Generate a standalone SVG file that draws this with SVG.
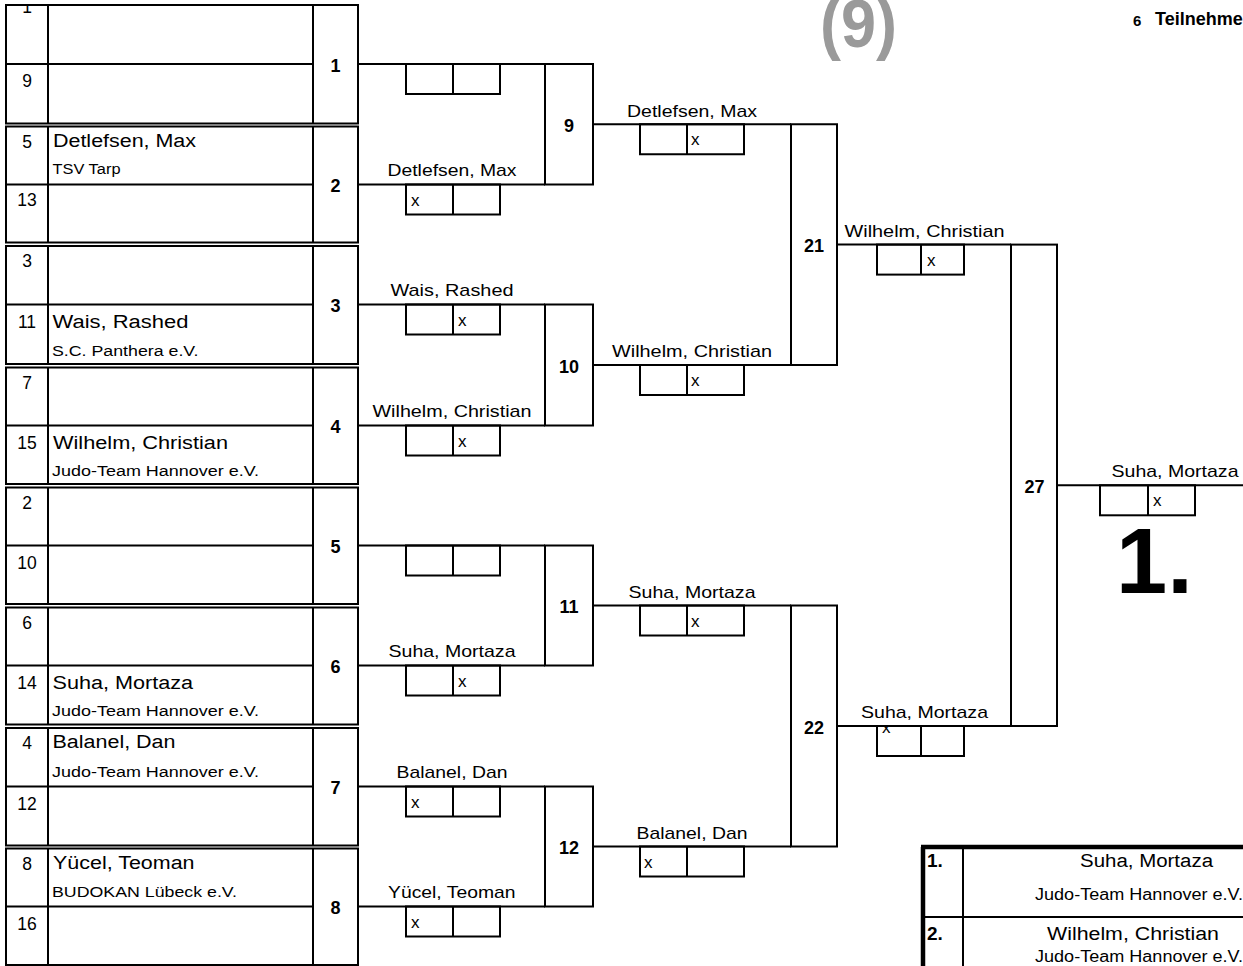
<svg xmlns="http://www.w3.org/2000/svg" width="1243" height="966" viewBox="0 0 1243 966">
<style>
.ln{stroke:#000;stroke-width:2;fill:none}
.bx{stroke:#000;stroke-width:2;fill:#fff}
.t{font-family:"Liberation Sans",Arial,Helvetica,sans-serif;fill:#000}
.seed{font-size:17.5px;text-anchor:middle}
.nm{font-size:18px}
.club{font-size:15.5px}
.lbl{font-size:17px}
.mn{font-size:18px;font-weight:bold;text-anchor:middle}
.x{font-size:17px}
.tb{font-size:18px}
</style>
<defs>
<clipPath id="c1"><rect x="6" y="6" width="42" height="50"/></clipPath>
<clipPath id="c22"><rect x="877" y="727" width="44" height="30"/></clipPath>
</defs>
<rect width="1243" height="966" fill="#fff"/>

<text class="t" x="820" y="47" font-size="68" font-weight="bold" style="fill:#9a9a9a" textLength="77" lengthAdjust="spacingAndGlyphs">(9)</text>
<text class="t" x="1133" y="26" font-size="15" font-weight="bold">6</text>
<text class="t" x="1155" y="25" font-size="18" font-weight="bold">Teilnehmer</text>

<g id="connectors">
<path class="ln" d="M358 64H545M358 184.5H545M358 304.5H545M358 425.5H545M358 545.5H545M358 665.5H545M358 786.5H545M358 906.5H545"/>
<path class="ln" d="M593 124.25H791M593 365H791M593 605.5H791M593 846.5H791"/>
<path class="ln" d="M837 244.6H1011M837 726H1011"/>
<path class="ln" d="M1057 485.3H1243"/>
</g>

<g id="block1">
<rect class="ln" x="6" y="5" width="352" height="118.5"/>
<path class="ln" d="M48 5V123.5M313 5V123.5M6 64H313"/>
<text class="t seed" x="27" y="13" clip-path="url(#c1)">1</text>
<text class="t seed" x="27" y="87">9</text>
</g>
<g id="block2">
<rect class="ln" x="6" y="126.5" width="352" height="116"/>
<path class="ln" d="M48 126.5V242.5M313 126.5V242.5M6 184.5H313"/>
<text class="t seed" x="27" y="147.5">5</text>
<text class="t nm" x="53" y="146.5" textLength="143" lengthAdjust="spacingAndGlyphs">Detlefsen, Max</text>
<text class="t club" x="52.5" y="174" textLength="68" lengthAdjust="spacingAndGlyphs">TSV Tarp</text>
<text class="t seed" x="27" y="206">13</text>
</g>
<g id="block3">
<rect class="ln" x="6" y="246" width="352" height="118"/>
<path class="ln" d="M48 246V364M313 246V364M6 304.5H313"/>
<text class="t seed" x="27" y="267">3</text>
<text class="t seed" x="27" y="327.5">11</text>
<text class="t nm" x="52.5" y="327.5" textLength="136" lengthAdjust="spacingAndGlyphs">Wais, Rashed</text>
<text class="t club" x="52" y="355.5" textLength="146.5" lengthAdjust="spacingAndGlyphs">S.C. Panthera e.V.</text>
</g>
<g id="block4">
<rect class="ln" x="6" y="367.5" width="352" height="116.5"/>
<path class="ln" d="M48 367.5V484M313 367.5V484M6 425.5H313"/>
<text class="t seed" x="27" y="388.5">7</text>
<text class="t seed" x="27" y="448.5">15</text>
<text class="t nm" x="53" y="448.5" textLength="175" lengthAdjust="spacingAndGlyphs">Wilhelm, Christian</text>
<text class="t club" x="52" y="475.5" textLength="207" lengthAdjust="spacingAndGlyphs">Judo-Team Hannover e.V.</text>
</g>
<g id="block5">
<rect class="ln" x="6" y="487.5" width="352" height="116.5"/>
<path class="ln" d="M48 487.5V604M313 487.5V604M6 545.5H313"/>
<text class="t seed" x="27" y="508.5">2</text>
<text class="t seed" x="27" y="568.5">10</text>
</g>
<g id="block6">
<rect class="ln" x="6" y="607.5" width="352" height="117"/>
<path class="ln" d="M48 607.5V724.5M313 607.5V724.5M6 665.5H313"/>
<text class="t seed" x="27" y="628.5">6</text>
<text class="t seed" x="27" y="688.5">14</text>
<text class="t nm" x="52.5" y="688.5" textLength="140.5" lengthAdjust="spacingAndGlyphs">Suha, Mortaza</text>
<text class="t club" x="52" y="715.5" textLength="207" lengthAdjust="spacingAndGlyphs">Judo-Team Hannover e.V.</text>
</g>
<g id="block7">
<rect class="ln" x="6" y="728" width="352" height="117.5"/>
<path class="ln" d="M48 728V845.5M313 728V845.5M6 786.5H313"/>
<text class="t seed" x="27" y="749">4</text>
<text class="t nm" x="52.5" y="748" textLength="123" lengthAdjust="spacingAndGlyphs">Balanel, Dan</text>
<text class="t club" x="52" y="776.5" textLength="207" lengthAdjust="spacingAndGlyphs">Judo-Team Hannover e.V.</text>
<text class="t seed" x="27" y="809.5">12</text>
</g>
<g id="block8">
<rect class="ln" x="6" y="848.5" width="352" height="116.5"/>
<path class="ln" d="M48 848.5V965M313 848.5V965M6 906.5H313"/>
<text class="t seed" x="27" y="869.5">8</text>
<text class="t nm" x="53" y="868.5" textLength="141.5" lengthAdjust="spacingAndGlyphs">Yücel, Teoman</text>
<text class="t club" x="52" y="896.5" textLength="185" lengthAdjust="spacingAndGlyphs">BUDOKAN Lübeck e.V.</text>
<text class="t seed" x="27" y="929.5">16</text>
</g>

<g id="m1">
<text class="t mn" x="335.5" y="71.5">1</text>
<rect class="ln" x="406" y="64" width="94" height="30"/><path class="ln" d="M453 64V94"/>
</g>
<g id="m2">
<text class="t mn" x="335.5" y="192">2</text>
<text class="t lbl" x="387.5" y="175.5" textLength="129" lengthAdjust="spacingAndGlyphs">Detlefsen, Max</text>
<rect class="ln" x="406" y="184.5" width="94" height="30"/><path class="ln" d="M453 184.5V214.5"/>
<text class="t x" x="411" y="205.5">x</text>
</g>
<g id="m3">
<text class="t mn" x="335.5" y="312">3</text>
<text class="t lbl" x="390.5" y="296" textLength="123" lengthAdjust="spacingAndGlyphs">Wais, Rashed</text>
<rect class="ln" x="406" y="304.5" width="94" height="30"/><path class="ln" d="M453 304.5V334.5"/>
<text class="t x" x="458" y="325.5">x</text>
</g>
<g id="m4">
<text class="t mn" x="335.5" y="433">4</text>
<text class="t lbl" x="372.5" y="417" textLength="159" lengthAdjust="spacingAndGlyphs">Wilhelm, Christian</text>
<rect class="ln" x="406" y="425.5" width="94" height="30"/><path class="ln" d="M453 425.5V455.5"/>
<text class="t x" x="458" y="446.5">x</text>
</g>
<g id="m5">
<text class="t mn" x="335.5" y="553">5</text>
<rect class="ln" x="406" y="545.5" width="94" height="30"/><path class="ln" d="M453 545.5V575.5"/>
</g>
<g id="m6">
<text class="t mn" x="335.5" y="673">6</text>
<text class="t lbl" x="388.5" y="657" textLength="127" lengthAdjust="spacingAndGlyphs">Suha, Mortaza</text>
<rect class="ln" x="406" y="665.5" width="94" height="30"/><path class="ln" d="M453 665.5V695.5"/>
<text class="t x" x="458" y="686.5">x</text>
</g>
<g id="m7">
<text class="t mn" x="335.5" y="794">7</text>
<text class="t lbl" x="396.5" y="778" textLength="111" lengthAdjust="spacingAndGlyphs">Balanel, Dan</text>
<rect class="ln" x="406" y="786.5" width="94" height="30"/><path class="ln" d="M453 786.5V816.5"/>
<text class="t x" x="411" y="807.5">x</text>
</g>
<g id="m8">
<text class="t mn" x="335.5" y="914">8</text>
<text class="t lbl" x="388" y="898" textLength="127.5" lengthAdjust="spacingAndGlyphs">Yücel, Teoman</text>
<rect class="ln" x="406" y="906.5" width="94" height="30"/><path class="ln" d="M453 906.5V936.5"/>
<text class="t x" x="411" y="927.5">x</text>
</g>

<g id="m9">
<rect class="ln" x="545" y="64" width="48" height="120.5"/>
<text class="t mn" x="569" y="131.5">9</text>
<text class="t lbl" x="627" y="116.5" textLength="130" lengthAdjust="spacingAndGlyphs">Detlefsen, Max</text>
<rect class="ln" x="640" y="124.25" width="104" height="30"/><path class="ln" d="M687 124.25V154.25"/>
<text class="t x" x="691" y="145">x</text>
</g>
<g id="m10">
<rect class="ln" x="545" y="304.5" width="48" height="121"/>
<text class="t mn" x="569" y="372.5">10</text>
<text class="t lbl" x="612" y="357" textLength="160" lengthAdjust="spacingAndGlyphs">Wilhelm, Christian</text>
<rect class="ln" x="640" y="365" width="104" height="30"/><path class="ln" d="M687 365V395"/>
<text class="t x" x="691" y="386">x</text>
</g>
<g id="m11">
<rect class="ln" x="545" y="545.5" width="48" height="120"/>
<text class="t mn" x="569" y="613">11</text>
<text class="t lbl" x="628.5" y="597.5" textLength="127" lengthAdjust="spacingAndGlyphs">Suha, Mortaza</text>
<rect class="ln" x="640" y="605.5" width="104" height="30"/><path class="ln" d="M687 605.5V635.5"/>
<text class="t x" x="691" y="626.5">x</text>
</g>
<g id="m12">
<rect class="ln" x="545" y="786.5" width="48" height="120"/>
<text class="t mn" x="569" y="854">12</text>
<text class="t lbl" x="636.5" y="838.5" textLength="111" lengthAdjust="spacingAndGlyphs">Balanel, Dan</text>
<rect class="ln" x="640" y="846.5" width="104" height="30"/><path class="ln" d="M687 846.5V876.5"/>
<text class="t x" x="644" y="867.5">x</text>
</g>

<g id="m21">
<rect class="ln" x="791" y="124.25" width="46" height="240.75"/>
<text class="t mn" x="814" y="252">21</text>
<text class="t lbl" x="844.5" y="236.6" textLength="160" lengthAdjust="spacingAndGlyphs">Wilhelm, Christian</text>
<rect class="ln" x="877" y="244.6" width="87" height="30"/><path class="ln" d="M921 244.6V274.6"/>
<text class="t x" x="927" y="265.6">x</text>
</g>
<g id="m22">
<rect class="ln" x="791" y="605.5" width="46" height="241"/>
<text class="t mn" x="814" y="733.5">22</text>
<text class="t lbl" x="861" y="718" textLength="127" lengthAdjust="spacingAndGlyphs">Suha, Mortaza</text>
<rect class="ln" x="877" y="726" width="87" height="30"/><path class="ln" d="M921 726V756"/>
<text class="t x" x="882" y="733" clip-path="url(#c22)">x</text>
</g>

<g id="m27">
<rect class="ln" x="1011" y="244.6" width="46" height="481.4"/>
<text class="t mn" x="1034.5" y="493">27</text>
<text class="t lbl" x="1111.5" y="477" textLength="127" lengthAdjust="spacingAndGlyphs">Suha, Mortaza</text>
<rect class="ln" x="1100" y="485.3" width="95" height="30"/><path class="ln" d="M1148 485.3V515.3"/>
<text class="t x" x="1153" y="506.3">x</text>
<text class="t" x="1116" y="593" font-size="92" font-weight="bold">1.</text>
</g>

<g id="results">
<path d="M923 966V847M921 847H1243" stroke="#000" stroke-width="4.5" fill="none"/>
<path class="ln" d="M963 847V966M923 917H1243"/>
<text class="t" x="927" y="866.5" font-size="19" font-weight="bold">1.</text>
<text class="t" x="927" y="940" font-size="19" font-weight="bold">2.</text>
<text class="t tb" x="1080" y="866.5" textLength="133" lengthAdjust="spacingAndGlyphs">Suha, Mortaza</text>
<text class="t" x="1035" y="900" style="font-size:16px" textLength="208" lengthAdjust="spacingAndGlyphs">Judo-Team Hannover e.V.</text>
<text class="t tb" x="1047" y="940" textLength="172" lengthAdjust="spacingAndGlyphs">Wilhelm, Christian</text>
<text class="t" x="1035" y="961.5" style="font-size:16px" textLength="208" lengthAdjust="spacingAndGlyphs">Judo-Team Hannover e.V.</text>
</g>
</svg>
